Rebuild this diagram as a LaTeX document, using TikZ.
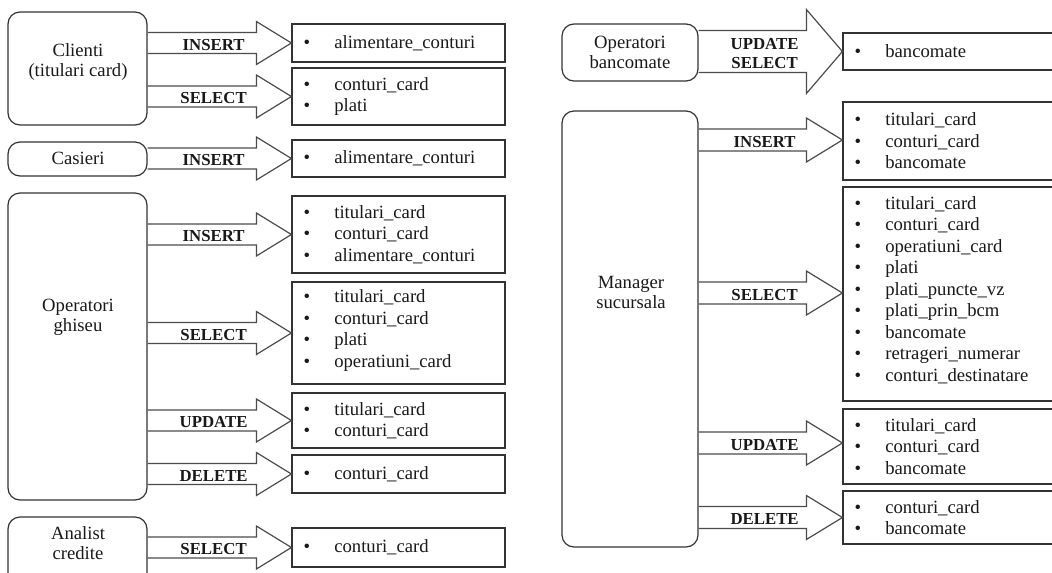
\documentclass[tikz,border=0pt]{standalone}
\usepackage{fontspec}
\setmainfont{Liberation Serif}
\usetikzlibrary{calc}
\newcommand\bul{\makebox[23pt][l]{\textbullet}}
\newcommand\fatarrow[7]{% from, to, dy(px), shaft half, head half, head length, label
  \draw[fat] let \p1=(#1.east), \p2=($(#2.west)+(0,#3)$) in
    (\x1,\y2+#4*0.75pt) -- (\x2-#6*0.75pt,\y2+#4*0.75pt) -- (\x2-#6*0.75pt,\y2+#5*0.75pt)
    -- (\x2,\y2) -- (\x2-#6*0.75pt,\y2-#5*0.75pt) -- (\x2-#6*0.75pt,\y2-#4*0.75pt) -- (\x1,\y2-#4*0.75pt)
    (\x1+66*0.75pt,\y2-2*0.75pt) node[lab]{#7};
}
\newcommand\items[3]{\node[list, anchor=west] (#1L) at ($(#1.west)+(12,#2)$) {#3};}
\tikzset{
  actor/.style={draw=black!80, line width=0.9pt, rounded corners=9pt, inner sep=0pt},
  target/.style={draw=black!80, line width=0.9pt, inner sep=0pt},
  fat/.style={draw=black!70, line width=0.9pt, line join=miter},
  lab/.style={font=\fontsize{12.6}{14.3}\selectfont\bfseries, text=black!90, align=center, inner sep=0pt},
  list/.style={font=\fontsize{14}{16.1}\selectfont, text=black!90, align=left, inner sep=0pt},
  atext/.style={font=\fontsize{14}{15}\selectfont, text=black!90, align=center, inner sep=0pt},
}
\begin{document}
\begin{tikzpicture}[x=0.75pt,y=-0.75pt]
\path[use as bounding box, clip] (0,0) rectangle (1052,572);
\fill[white] (0,0) rectangle (1052,572);
% left actors
\node[actor, minimum width=104.25pt, minimum height=84.75pt] (clienti) at (77.5,68.5) {};
\node[atext] (clientiT) at (78,62) {Clienti\\(titulari card)};
\node[actor, minimum width=104.25pt, minimum height=25.5pt] (casieri) at (77.5,159) {};
\node[atext] (casieriT) at (78,158) {Casieri};
\node[actor, minimum width=104.25pt, minimum height=230.25pt] (ghiseu) at (77.5,346.5) {};
\node[atext] (ghiseuT) at (78,317) {Operatori\\ghiseu};
\node[actor, minimum width=104.25pt, minimum height=62.25pt] (analist) at (77.5,558.5) {};
\node[atext] (analistT) at (78,543) {Analist\\credite};
% left targets
\node[target, minimum width=159.75pt, minimum height=28.5pt] (t1) at (398.5,43) {};
\node[target, minimum width=159.75pt, minimum height=42.75pt] (t2) at (398.5,96.5) {};
\node[target, minimum width=159.75pt, minimum height=27.75pt] (t3) at (398.5,158.5) {};
\node[target, minimum width=159.75pt, minimum height=57.75pt] (t4) at (398.5,234.5) {};
\node[target, minimum width=159.75pt, minimum height=76.5pt] (t5) at (398.5,333) {};
\node[target, minimum width=159.75pt, minimum height=41.25pt] (t6) at (398.5,420.5) {};
\node[target, minimum width=159.75pt, minimum height=28.5pt] (t7) at (398.5,474) {};
\node[target, minimum width=159.75pt, minimum height=29.25pt] (t8) at (398.5,547.5) {};
\items{t1}{0}{\bul alimentare\_conturi}
\items{t2}{0}{\bul conturi\_card\\\bul plati}
\items{t3}{0}{\bul alimentare\_conturi}
\items{t4}{0}{\bul titulari\_card\\\bul conturi\_card\\\bul alimentare\_conturi}
\items{t5}{-2.5}{\bul titulari\_card\\\bul conturi\_card\\\bul plati\\\bul operatiuni\_card}
\items{t6}{0}{\bul titulari\_card\\\bul conturi\_card}
\items{t7}{0}{\bul conturi\_card}
\items{t8}{0}{\bul conturi\_card}
% right actors
\node[actor, minimum width=102pt, minimum height=42.75pt] (banc) at (630,52.5) {};
\node[atext] (bancT) at (630,52.5) {Operatori\\bancomate};
\node[actor, minimum width=102pt, minimum height=327pt] (manager) at (630,329) {};
\node[atext] (managerT) at (631,292) {Manager\\sucursala};
% right targets
\node[target, minimum width=162.75pt, minimum height=27.75pt] (r1) at (951.5,51.5) {};
\node[target, minimum width=162.75pt, minimum height=58.5pt] (r2) at (951.5,141) {};
\node[target, minimum width=162.75pt, minimum height=160.5pt] (r3) at (951.5,294) {};
\node[target, minimum width=162.75pt, minimum height=56.25pt] (r4) at (951.5,446.5) {};
\node[target, minimum width=162.75pt, minimum height=39.75pt] (r5) at (951.5,517.5) {};
\items{r1}{0}{\bul bancomate}
\items{r2}{0}{\bul titulari\_card\\\bul conturi\_card\\\bul bancomate}
\items{r3}{-4}{\bul titulari\_card\\\bul conturi\_card\\\bul operatiuni\_card\\\bul plati\\\bul plati\_puncte\_vz\\\bul plati\_prin\_bcm\\\bul bancomate\\\bul retrageri\_numerar\\\bul conturi\_destinatare}
\items{r4}{0}{\bul titulari\_card\\\bul conturi\_card\\\bul bancomate}
\items{r5}{0}{\bul conturi\_card\\\bul bancomate}
% arrows
\fatarrow{clienti}{t1}{0}{10.5}{21.5}{35}{INSERT}
\fatarrow{clienti}{t2}{0}{10.5}{21.5}{35}{SELECT}
\fatarrow{casieri}{t3}{0}{10.5}{21.5}{35}{INSERT}
\fatarrow{ghiseu}{t4}{0}{10.5}{21.5}{35}{INSERT}
\fatarrow{ghiseu}{t5}{0}{10.5}{21.5}{35}{SELECT}
\fatarrow{ghiseu}{t6}{0}{10.5}{21.5}{35}{UPDATE}
\fatarrow{ghiseu}{t7}{0}{10.5}{21.5}{35}{DELETE}
\fatarrow{analist}{t8}{0}{10.5}{21.5}{35}{SELECT}
\fatarrow{banc}{r1}{0}{21}{42}{36}{UPDATE\\SELECT}
\fatarrow{manager}{r2}{-1}{11}{22}{36}{INSERT}
\fatarrow{manager}{r3}{-1}{11}{22}{36}{SELECT}
\fatarrow{manager}{r4}{-3.5}{11}{22}{36}{UPDATE}
\fatarrow{manager}{r5}{0}{11}{22}{36}{DELETE}
\end{tikzpicture}
\end{document}
